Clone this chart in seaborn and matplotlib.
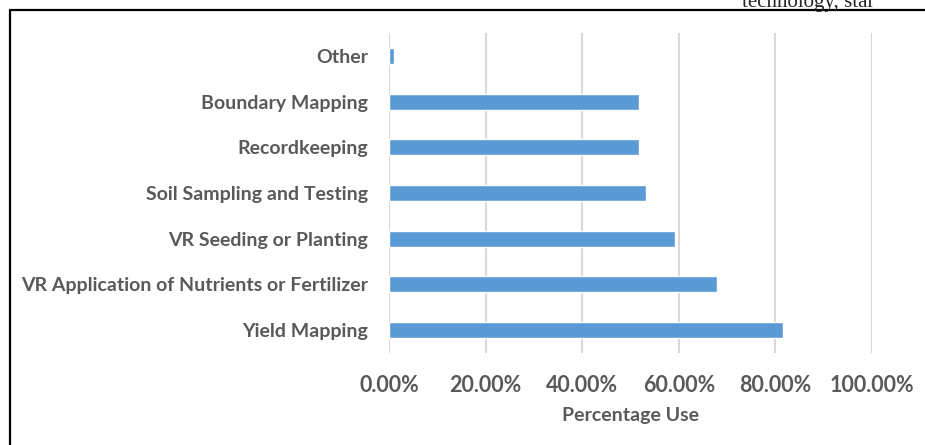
import matplotlib
matplotlib.use("Agg")
import matplotlib.pyplot as plt
import seaborn as sns
import pandas as pd
from matplotlib.ticker import PercentFormatter

categories = ["Other", "Boundary Mapping", "Recordkeeping", "Soil Sampling and Testing",
              "VR Seeding or Planting", "VR Application of Nutrients or Fertilizer", "Yield Mapping"]
values = [0.010, 0.518, 0.518, 0.532, 0.593, 0.680, 0.816]
xticks = [0, 0.2, 0.4, 0.6, 0.8, 1.0]

df = pd.DataFrame({"Use": categories, "Pct": values})

sns.set_style("white")
plt.rcParams["font.family"] = ["Lato", "DejaVu Sans"]

fig = plt.figure(figsize=(9.25, 4.45), dpi=100)
ax = fig.add_axes([389 / 925, 1 - 353 / 445, (872 - 389) / 925, 320 / 445])

sns.barplot(data=df, x="Pct", y="Use", color="#5b9bd5", width=0.35, saturation=1, ax=ax, zorder=3)

ax.set_xlim(0, 1.0)
ax.set_xticks(xticks)
ax.xaxis.set_major_formatter(PercentFormatter(1.0, decimals=2))
ax.grid(axis="x", color="#d9d9d9", linewidth=1.5, zorder=0)
ax.set_axisbelow(True)
for s in ax.spines.values():
    s.set_visible(False)
ax.tick_params(axis="both", length=0)
ax.tick_params(axis="x", pad=16, labelsize=15.5, labelcolor="#595959")
ax.tick_params(axis="y", pad=15, labelsize=14, labelcolor="#595959")
for lbl in ax.get_xticklabels() + ax.get_yticklabels():
    lbl.set_fontweight("bold")
ax.set_ylabel("")
ax.set_xlabel("Percentage Use", fontsize=14, color="#595959", fontweight="bold", labelpad=8)

# page frame and clipped caption text from the source document
fig.add_artist(plt.Line2D([9.5 / 925, 9.5 / 925], [0, 1 - 10 / 445], transform=fig.transFigure,
                          color="black", linewidth=1.6))
fig.add_artist(plt.Line2D([9.5 / 925, 1], [1 - 10 / 445, 1 - 10 / 445], transform=fig.transFigure,
                          color="black", linewidth=1.6))
fig.text(742 / 925, 1 - 2 / 445, "technology, star", fontsize=15, family=["Liberation Serif"],
         va="center", ha="left")

fig.savefig("out.png", dpi=100)
